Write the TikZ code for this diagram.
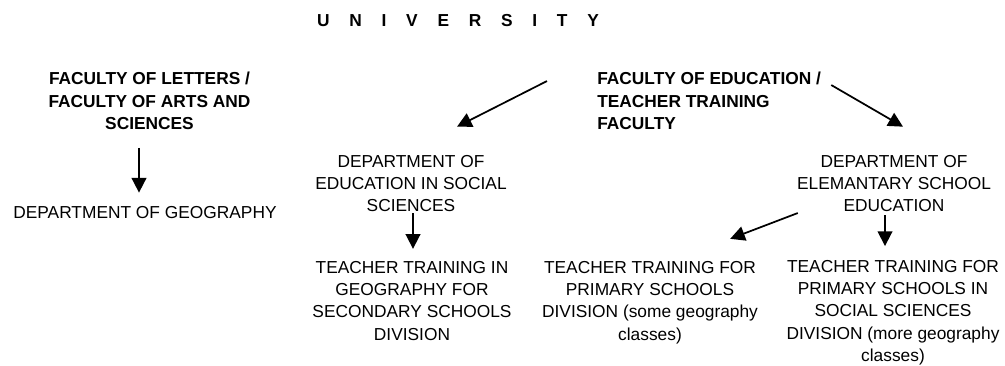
\documentclass[tikz,border=0pt]{standalone}
\usepackage{fontspec}
\setmainfont{Liberation Sans}
\usetikzlibrary{arrows.meta}
\newcommand{\lsp}{\hspace{14.8pt}}

\begin{document}
\begin{tikzpicture}[x=0.75pt, y=-0.75pt,
    %Style
    unit/.style={inner sep=0pt, align=center, anchor=base, font=\fontsize{13}{16.7}\selectfont},
    faculty/.style={unit, font=\fontsize{13}{16.7}\selectfont\bfseries},
    link/.style={-{Triangle[length=11pt, width=11pt]}, line width=1.3pt}]
    \useasboundingbox (0,0) rectangle (1005,366);

    %Top level (nodes sit on the baseline of their last line)
    \node[faculty] (uni) at (458,26.7) {U\lsp N\lsp I\lsp V\lsp E\lsp R\lsp S\lsp I\lsp T\lsp Y};

    %Faculties
    \node[faculty] (letters) at (149.5,129.4) {FACULTY OF LETTERS /\\FACULTY OF ARTS AND\\SCIENCES};
    \node[faculty, align=left, anchor=base west] (edu) at (597,129.4) {FACULTY OF EDUCATION /\\TEACHER TRAINING\\FACULTY};

    %Departments
    \node[unit] (geo) at (145,219) {DEPARTMENT OF GEOGRAPHY};
    \node[unit] (social) at (411,211.6) {DEPARTMENT OF\\EDUCATION IN SOCIAL\\SCIENCES};
    \node[unit] (elem) at (894,211.6) {DEPARTMENT OF\\ELEMANTARY SCHOOL\\EDUCATION};

    %Divisions
    \node[unit] (secondary) at (412,340) {TEACHER TRAINING IN\\GEOGRAPHY FOR\\SECONDARY SCHOOLS\\DIVISION};
    \node[unit] (primary) at (650,340) {TEACHER TRAINING FOR\\PRIMARY SCHOOLS\\DIVISION (some geography\\classes)};
    \node[unit] (primsoc) at (893,361.5) {TEACHER TRAINING FOR\\PRIMARY SCHOOLS IN\\SOCIAL SCIENCES\\DIVISION (more geography\\classes)};

    %The links
    \draw[link] ([shift={(-10.5,18)}]letters.south) -- ([shift={(-6,-14)}]geo.north);
    \draw[link] ([shift={(-50,9)}]edu.north west) -- ([shift={(46,-28)}]social.north);
    \draw[link] ([shift={(10,13)}]edu.north east) -- ([shift={(9,-28)}]elem.north);
    \draw[link] ([shift={(2,1)}]social.south) -- ([shift={(1,-12)}]secondary.north);
    \draw[link] ([shift={(1,1)}]elem.south west) -- ([shift={(-28,-22)}]primary.north east);
    \draw[link] ([shift={(-9,3)}]elem.south) -- ([shift={(-8,-14)}]primsoc.north);
\end{tikzpicture}
\end{document}
